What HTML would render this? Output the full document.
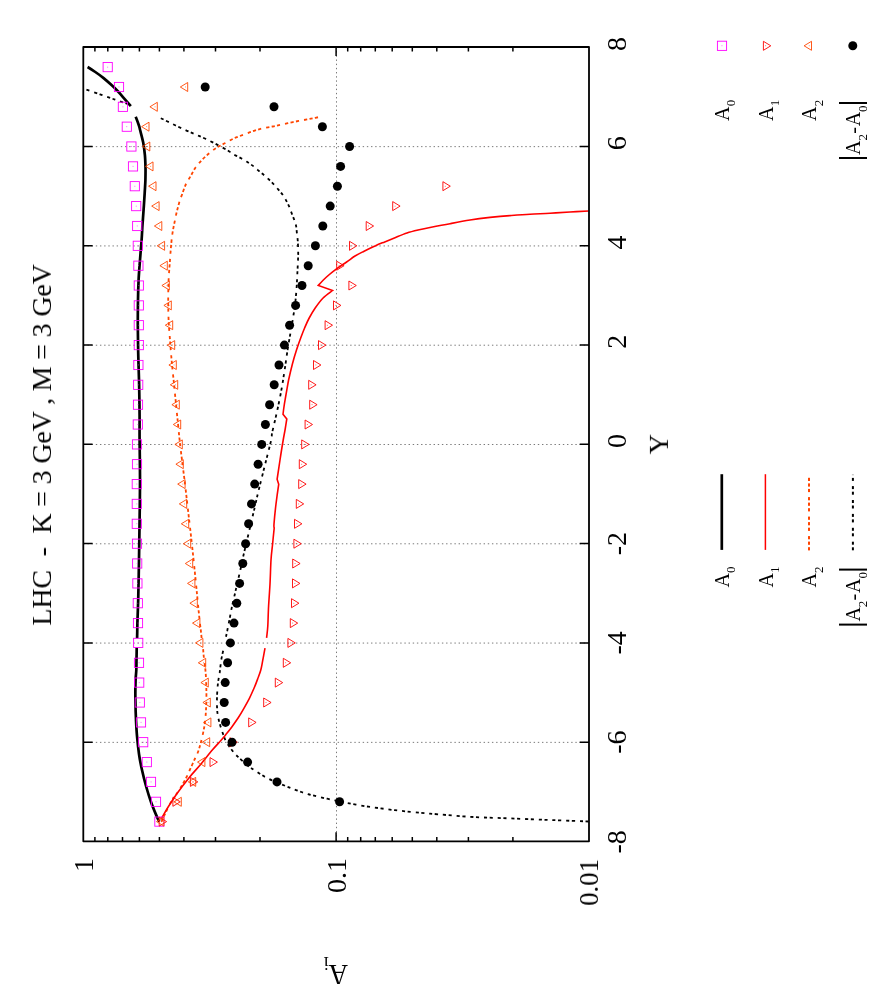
<!DOCTYPE html>
<html><head><meta charset="utf-8"><title>chart</title>
<style>html,body{margin:0;padding:0;background:#fff}svg{display:block}text{font-family:"Liberation Serif",serif;fill:#000}</style></head>
<body>
<svg width="875" height="1000" viewBox="0 0 875 1000">
<rect width="875" height="1000" fill="#fff"/>
<g stroke="#000" stroke-opacity="0.7" stroke-width="0.75" stroke-dasharray="1.4 2.77" fill="none">
<path d="M83.3 742.36 H589.0"/>
<path d="M83.3 643.07 H589.0"/>
<path d="M83.3 543.79 H589.0"/>
<path d="M83.3 444.50 H589.0"/>
<path d="M83.3 345.21 H589.0"/>
<path d="M83.3 245.93 H589.0"/>
<path d="M83.3 146.64 H589.0"/>
<path d="M336.5 47.0 V841.3"/>
</g>
<g stroke="#000" stroke-width="1.5" fill="none">
<path d="M83.3 742.2 h9.3 M589.0 742.2 h-9.3"/>
<path d="M83.3 642.9 h9.3 M589.0 642.9 h-9.3"/>
<path d="M83.3 543.6 h9.3 M589.0 543.6 h-9.3"/>
<path d="M83.3 444.3 h9.3 M589.0 444.3 h-9.3"/>
<path d="M83.3 345.1 h9.3 M589.0 345.1 h-9.3"/>
<path d="M83.3 245.8 h9.3 M589.0 245.8 h-9.3"/>
<path d="M83.3 146.5 h9.3 M589.0 146.5 h-9.3"/>
<path d="M512.9 47.0 v4.4 M512.9 841.3 v-4.4"/>
<path d="M468.4 47.0 v4.4 M468.4 841.3 v-4.4"/>
<path d="M436.8 47.0 v4.4 M436.8 841.3 v-4.4"/>
<path d="M412.3 47.0 v4.4 M412.3 841.3 v-4.4"/>
<path d="M392.2 47.0 v4.4 M392.2 841.3 v-4.4"/>
<path d="M375.3 47.0 v4.4 M375.3 841.3 v-4.4"/>
<path d="M360.7 47.0 v4.4 M360.7 841.3 v-4.4"/>
<path d="M347.7 47.0 v4.4 M347.7 841.3 v-4.4"/>
<path d="M336.1 47.0 v9.0 M336.1 841.3 v-9.0"/>
<path d="M260.0 47.0 v4.4 M260.0 841.3 v-4.4"/>
<path d="M215.5 47.0 v4.4 M215.5 841.3 v-4.4"/>
<path d="M183.9 47.0 v4.4 M183.9 841.3 v-4.4"/>
<path d="M159.4 47.0 v4.4 M159.4 841.3 v-4.4"/>
<path d="M139.4 47.0 v4.4 M139.4 841.3 v-4.4"/>
<path d="M122.5 47.0 v4.4 M122.5 841.3 v-4.4"/>
<path d="M107.8 47.0 v4.4 M107.8 841.3 v-4.4"/>
<path d="M94.9 47.0 v4.4 M94.9 841.3 v-4.4"/>
</g>
<g fill="none" stroke-linejoin="round">
<path d="M161.6 821.6 C162.2 820.2 164.1 815.9 165.5 813.0 C166.9 810.1 168.2 807.2 170.0 804.0 C171.8 800.8 174.7 796.8 176.5 794.0 C178.3 791.2 179.3 789.8 181.0 787.0 C182.7 784.2 185.1 779.8 186.6 777.0 C188.1 774.2 188.4 773.0 189.8 770.0 C191.2 767.0 193.4 762.0 194.8 759.0 C196.2 756.0 197.0 754.8 198.0 752.0 C199.0 749.2 199.9 746.3 201.0 742.0 C202.1 737.7 203.6 731.3 204.4 726.0 C205.2 720.7 205.7 715.7 206.0 710.0 C206.3 704.3 206.5 698.3 206.4 692.0 C206.3 685.7 206.1 678.0 205.6 672.0 C205.1 666.0 204.1 659.9 203.7 656.0 C203.3 652.1 203.2 649.8 203.1 648.5" stroke="#ff4500" stroke-width="1.8" stroke-dasharray="3.2 2.3 3.2 2.3 3.2 5.1"/>
<path d="M201.6 638.0 C201.5 636.8 201.2 634.0 200.9 631.0 C200.6 628.0 200.2 626.2 199.6 620.0 C198.9 613.8 197.9 603.3 197.0 594.0 C196.1 584.7 195.0 573.7 194.0 564.0 C193.0 554.3 192.0 545.0 191.0 536.0 C190.0 527.0 189.0 518.7 188.0 510.0 C187.0 501.3 186.0 492.3 185.0 484.0 C184.0 475.7 182.9 467.3 182.0 460.0 C181.1 452.7 180.3 446.7 179.6 440.0 C178.9 433.3 178.3 426.7 177.6 420.0 C176.9 413.3 176.3 406.7 175.6 400.0 C174.9 393.3 174.3 386.7 173.6 380.0 C172.9 373.3 172.2 366.7 171.6 360.0 C171.0 353.3 170.5 346.7 170.0 340.0 C169.5 333.3 168.9 326.7 168.6 320.0 C168.3 313.3 168.2 306.7 168.2 300.0 C168.2 293.3 168.3 286.7 168.6 280.0 C168.9 273.3 169.6 266.1 170.0 260.0 C170.4 253.8 170.9 247.6 171.3 243.1 C171.7 238.6 172.0 236.4 172.5 233.1 C173.0 229.8 173.7 226.3 174.4 223.0 C175.1 219.7 175.7 216.3 176.5 213.0 C177.3 209.7 178.2 206.1 179.1 202.9 C180.0 199.8 181.0 197.2 182.2 194.1 C183.3 190.9 184.6 186.9 186.0 184.0 C187.4 181.1 188.8 179.2 190.4 176.5 C192.0 173.8 193.5 170.4 195.4 167.7 C197.3 165.0 199.4 162.6 201.7 160.2 C204.0 157.8 206.7 155.4 209.2 153.3 C211.7 151.2 214.1 149.3 216.8 147.6 C219.5 145.9 222.5 144.5 225.3 143.0 C228.1 141.5 230.7 139.8 233.8 138.4 C236.9 137.0 240.6 135.8 243.9 134.6 C247.2 133.3 250.8 131.9 253.9 130.9 C257.0 129.9 259.6 129.0 262.7 128.3 C265.8 127.6 269.6 127.1 272.8 126.5 C276.0 125.9 278.2 125.3 281.6 124.6 C285.0 123.9 289.3 122.8 292.9 122.1 C296.4 121.4 299.5 120.8 302.9 120.2 C306.2 119.6 309.9 118.9 313.0 118.3 C316.1 117.7 320.0 116.8 321.4 116.5" stroke="#ff4500" stroke-width="1.8" stroke-dasharray="3.2 2.3 3.2 2.3 3.2 5.1"/>
<path d="M588.6 821.5 C582.2 821.2 563.1 820.5 550.0 820.0 C536.9 819.5 523.3 818.9 510.0 818.4 C496.7 817.9 483.3 817.6 470.0 816.8 C456.7 816.0 439.2 814.4 430.0 813.6 C420.8 812.8 419.8 812.7 415.0 812.2 C410.2 811.8 405.9 811.4 401.4 810.9 C396.8 810.4 392.3 809.9 387.7 809.3 C383.1 808.7 378.6 808.1 374.0 807.5 C369.4 806.9 364.9 806.2 360.3 805.4 C355.7 804.6 350.8 803.7 346.6 802.9 C342.4 802.1 339.3 801.3 335.0 800.4 C330.7 799.5 325.1 798.3 320.6 797.3 C316.1 796.2 312.0 795.3 308.0 794.1 C304.0 792.9 300.5 791.7 296.7 790.3 C292.9 788.9 290.2 787.9 285.4 785.9 C280.6 783.9 272.6 780.8 267.8 778.4 C263.0 776.0 259.6 773.5 256.5 771.5 C253.3 769.5 251.8 768.8 248.9 766.5 C246.0 764.2 241.4 760.0 238.9 757.7 C236.4 755.4 236.0 755.2 233.9 752.6 C231.8 750.0 228.2 745.2 226.5 742.2 C224.8 739.2 224.2 737.0 223.4 734.9 C222.6 732.8 222.2 731.5 221.5 729.4 C220.8 727.3 219.9 724.4 219.3 722.1 C218.7 719.8 218.3 718.0 217.9 715.7 C217.5 713.4 217.2 711.5 217.1 708.4 C216.9 705.3 216.9 701.5 217.0 697.4 C217.1 693.3 217.5 687.8 217.9 683.7 C218.3 679.6 219.1 676.6 219.7 672.7 C220.2 668.8 220.6 664.1 221.2 660.3 C221.8 656.5 223.0 651.7 223.3 650.0" stroke="#000" stroke-width="1.8" stroke-dasharray="3.1 2.6 3.1 4.9"/>
<path d="M226.0 636.8 C226.2 635.8 226.5 634.2 227.2 631.0 C227.8 627.8 229.1 621.6 229.9 617.4 C230.7 613.2 231.3 609.6 232.2 605.6 C233.0 601.6 234.2 597.2 235.0 593.5 C235.8 589.8 236.3 587.6 237.2 583.6 C238.1 579.6 239.4 574.2 240.5 569.3 C241.6 564.3 242.5 559.6 243.8 553.9 C245.1 548.2 246.6 541.8 248.2 535.2 C249.8 528.6 251.7 520.2 253.1 514.3 C254.5 508.4 255.4 504.4 256.4 500.0 C257.4 495.6 257.7 494.0 259.2 488.0 C260.7 482.0 263.2 472.0 265.2 464.0 C267.2 456.0 270.1 445.1 271.2 440.0 C272.3 434.9 271.4 436.5 272.0 433.4 C272.6 430.3 273.8 425.7 274.8 421.3 C275.8 416.9 276.8 412.7 278.0 407.0 C279.2 401.3 280.7 394.0 281.9 387.2 C283.1 380.4 284.2 372.5 285.2 366.3 C286.1 360.1 286.9 354.2 287.6 349.8 C288.3 345.4 288.6 343.6 289.2 340.2 C289.8 336.8 290.5 332.9 291.1 329.2 C291.7 325.5 292.4 322.2 293.0 318.2 C293.6 314.2 294.4 309.4 295.0 305.0 C295.6 300.6 295.9 296.2 296.3 291.8 C296.7 287.4 296.9 282.8 297.1 278.6 C297.3 274.4 297.5 270.7 297.7 266.5 C297.9 262.3 298.2 257.5 298.2 253.3 C298.2 249.1 298.0 244.5 297.8 241.3 C297.6 238.1 297.3 236.8 297.0 234.2 C296.7 231.6 296.5 228.2 296.1 225.9 C295.7 223.6 295.2 222.5 294.5 220.4 C293.8 218.3 292.5 215.5 291.7 213.3 C290.9 211.1 290.4 209.3 289.5 207.2 C288.6 205.1 287.3 202.6 286.2 200.6 C285.1 198.6 284.3 197.0 282.9 195.1 C281.5 193.2 279.5 190.8 278.0 189.1 C276.5 187.4 275.7 186.3 274.1 184.7 C272.5 183.0 270.2 180.8 268.6 179.2 C267.0 177.6 266.0 176.9 264.2 175.3 C262.4 173.7 259.3 171.3 257.6 169.8 C255.9 168.3 255.6 167.9 253.8 166.5 C252.0 165.1 248.7 163.0 246.6 161.6 C244.5 160.2 243.0 159.4 241.1 158.3 C239.2 157.2 237.0 156.2 235.0 155.1 C233.0 153.9 232.1 153.1 229.3 151.4 C226.5 149.7 222.0 147.2 218.0 145.1 C214.0 143.0 209.3 140.6 205.5 138.8 C201.7 137.0 198.8 135.9 195.4 134.4 C192.0 132.9 189.2 131.8 185.3 130.0 C181.4 128.2 176.5 125.9 172.0 123.7 C167.5 121.5 160.8 118.2 158.5 117.1" stroke="#000" stroke-width="1.8" stroke-dasharray="3.1 2.6 3.1 4.9"/>
<path d="M128.3 104.2 C126.1 103.4 119.7 101.2 115.0 99.6 C110.3 98.0 105.1 96.2 100.0 94.4 C94.9 92.6 86.8 89.8 84.2 88.9" stroke="#000" stroke-width="1.8" stroke-dasharray="3.1 2.6 3.1 4.9"/>
<path d="M161.0 819.2 C161.2 818.9 160.7 819.7 161.9 817.6 C163.1 815.5 165.7 810.8 168.3 806.7 C170.9 802.6 173.9 797.9 177.4 793.0 C180.9 788.1 185.3 782.3 189.3 777.4 C193.3 772.5 197.4 768.3 201.2 763.7 C205.0 759.1 209.3 753.6 212.3 750.0 C215.3 746.4 217.1 744.7 219.3 742.2 C221.5 739.7 223.5 737.5 225.6 734.9 C227.7 732.3 229.9 729.6 232.0 726.7 C234.1 723.8 236.4 720.5 238.4 717.5 C240.4 714.5 242.1 711.6 243.9 708.4 C245.7 705.2 247.7 701.6 249.4 698.3 C251.1 694.9 252.6 691.5 254.0 688.3 C255.4 685.1 256.5 682.1 257.6 679.1 C258.7 676.1 260.0 673.0 260.8 670.0 C261.6 667.0 261.9 664.8 262.6 661.2 C263.3 657.6 264.6 650.4 265.0 648.2" stroke="#ff0000" stroke-width="1.6" stroke-linejoin="miter"/>
<path d="M266.6 637.8 C266.8 635.8 267.5 631.3 267.8 626.0 C268.1 620.7 268.2 613.0 268.6 606.0 C269.0 599.0 269.6 591.7 270.0 584.0 C270.4 576.3 270.6 566.7 271.0 560.0 C271.4 553.3 272.1 549.3 272.6 544.0 C273.1 538.7 273.9 530.7 274.2 528.0  C274.2 527.3 273.7 528.0 274.0 524.0 C274.3 520.0 275.2 510.6 276.0 504.0 C276.8 497.4 278.2 487.6 278.7 484.3 L277.1 479.3  C277.6 476.1 279.0 466.6 280.0 460.0 C281.0 453.4 282.3 445.2 283.2 440.0 C284.1 434.8 284.6 432.5 285.2 429.0 C285.8 425.5 286.5 420.7 286.8 419.0 L283.0 414.2  C283.2 412.8 283.6 409.4 284.1 406.0 C284.6 402.6 285.4 398.3 286.1 394.0 C286.9 389.7 287.6 385.0 288.6 380.0 C289.7 375.0 291.1 369.0 292.4 364.0 C293.7 359.0 295.1 354.3 296.5 350.0 C297.9 345.7 299.3 341.7 300.7 338.0 C302.1 334.3 303.2 331.3 304.6 328.0 C306.0 324.7 307.4 321.3 309.2 318.0 C311.0 314.7 312.9 311.3 315.2 308.0 C317.5 304.7 320.2 300.9 323.1 298.0 C326.0 295.1 331.0 291.8 332.6 290.5 L318.3 285.4  C319.7 283.9 323.5 279.8 326.5 277.0 C329.5 274.2 333.1 271.3 336.5 268.8 C339.9 266.3 343.5 264.1 346.6 262.0 C349.7 259.9 352.1 257.8 355.0 256.0 C357.9 254.2 360.7 252.9 364.1 251.2 C367.5 249.5 372.2 247.2 375.6 245.7 C379.0 244.1 381.5 243.2 384.7 241.9 C387.9 240.6 391.3 239.2 395.0 237.7 C398.7 236.2 403.0 234.3 407.0 233.0 C411.0 231.7 415.4 230.7 419.2 229.8 C423.0 228.9 424.9 228.5 430.0 227.5 C435.1 226.5 443.3 224.9 450.0 223.7 C456.7 222.4 463.3 221.1 470.0 220.0 C476.7 218.9 483.3 218.1 490.0 217.4 C496.7 216.7 503.3 216.1 510.0 215.6 C516.7 215.1 523.3 214.6 530.0 214.2 C536.7 213.8 543.3 213.6 550.0 213.2 C556.7 212.8 563.6 212.4 570.0 212.0 C576.4 211.6 585.5 211.2 588.6 211.0" stroke="#ff0000" stroke-width="1.6" stroke-linejoin="miter"/>
<path d="M159.4 821.6 C159.0 820.8 158.4 820.3 157.0 817.0 C155.6 813.7 152.8 807.2 151.0 802.0 C149.2 796.8 147.5 791.3 146.0 786.0 C144.5 780.7 143.2 775.3 142.0 770.0 C140.8 764.7 139.8 759.7 139.0 754.0 C138.2 748.3 137.5 741.7 137.0 736.0 C136.5 730.3 136.3 726.0 136.0 720.0 C135.7 714.0 135.5 706.7 135.4 700.0 C135.3 693.3 135.4 685.0 135.6 680.0 C135.8 675.0 136.2 673.3 136.3 670.0 C136.5 666.7 136.4 663.7 136.5 660.0 C136.6 656.3 136.7 649.8 136.7 647.8" stroke="#000" stroke-width="2.7"/>
<path d="M137.1 638.2 C137.2 635.2 137.3 626.4 137.5 620.0 C137.7 613.6 137.9 610.0 138.2 600.0 C138.4 590.0 138.8 573.3 139.0 560.0 C139.2 546.7 139.4 533.3 139.6 520.0 C139.8 506.7 140.0 493.3 140.0 480.0 C140.0 466.7 139.7 450.0 139.6 440.0 C139.5 430.0 139.6 426.7 139.6 420.0 C139.6 413.3 139.5 406.7 139.4 400.0 C139.3 393.3 139.2 386.7 139.0 380.0 C138.8 373.3 138.6 366.7 138.4 360.0 C138.2 353.3 138.1 346.7 138.0 340.0 C137.9 333.3 137.8 326.7 137.8 320.0 C137.8 313.3 137.9 306.7 138.0 300.0 C138.1 293.3 138.3 286.7 138.6 280.0 C138.9 273.3 139.5 266.7 140.0 260.0 C140.5 253.3 141.2 245.3 141.6 240.0 C142.0 234.7 142.1 231.7 142.3 228.0 C142.5 224.3 142.7 221.8 143.0 218.0 C143.3 214.2 143.6 209.6 143.9 205.4 C144.2 201.2 144.4 197.1 144.7 192.9 C144.9 188.7 145.3 184.5 145.4 180.3 C145.5 176.1 145.6 171.9 145.5 167.7 C145.4 163.5 145.3 159.3 144.9 155.1 C144.5 150.9 144.0 146.8 143.2 142.6 C142.4 138.4 140.8 132.8 140.1 130.0 C139.4 127.2 139.8 128.2 139.1 126.0 C138.4 123.8 136.3 118.2 135.7 116.7" stroke="#000" stroke-width="2.7"/>
<path d="M130.8 106.2 C129.9 105.1 127.2 102.0 125.2 99.7 C123.2 97.4 121.2 94.9 119.0 92.5 C116.8 90.1 114.4 87.7 111.8 85.3 C109.2 82.9 106.3 80.3 103.6 78.1 C100.8 75.9 98.0 73.8 95.3 72.0 C92.6 70.2 88.9 67.8 87.6 67.0" stroke="#000" stroke-width="2.7"/>
</g>
<g>
<rect x="154.8" y="817.0" width="9.2" height="9.2" fill="none" stroke="#ff00ff" stroke-width="0.9"/><rect x="159.0" y="821.2" width="0.9" height="0.9" fill="#ff00ff" fill-opacity="0.7"/>
<rect x="151.4" y="797.2" width="9.2" height="9.2" fill="none" stroke="#ff00ff" stroke-width="0.9"/><rect x="155.6" y="801.3" width="0.9" height="0.9" fill="#ff00ff" fill-opacity="0.7"/>
<rect x="146.4" y="777.3" width="9.2" height="9.2" fill="none" stroke="#ff00ff" stroke-width="0.9"/><rect x="150.6" y="781.5" width="0.9" height="0.9" fill="#ff00ff" fill-opacity="0.7"/>
<rect x="142.2" y="757.5" width="9.2" height="9.2" fill="none" stroke="#ff00ff" stroke-width="0.9"/><rect x="146.4" y="761.6" width="0.9" height="0.9" fill="#ff00ff" fill-opacity="0.7"/>
<rect x="138.6" y="737.6" width="9.2" height="9.2" fill="none" stroke="#ff00ff" stroke-width="0.9"/><rect x="142.8" y="741.8" width="0.9" height="0.9" fill="#ff00ff" fill-opacity="0.7"/>
<rect x="136.4" y="717.8" width="9.2" height="9.2" fill="none" stroke="#ff00ff" stroke-width="0.9"/><rect x="140.6" y="721.9" width="0.9" height="0.9" fill="#ff00ff" fill-opacity="0.7"/>
<rect x="135.2" y="697.9" width="9.2" height="9.2" fill="none" stroke="#ff00ff" stroke-width="0.9"/><rect x="139.4" y="702.1" width="0.9" height="0.9" fill="#ff00ff" fill-opacity="0.7"/>
<rect x="134.6" y="678.0" width="9.2" height="9.2" fill="none" stroke="#ff00ff" stroke-width="0.9"/><rect x="138.8" y="682.2" width="0.9" height="0.9" fill="#ff00ff" fill-opacity="0.7"/>
<rect x="134.4" y="658.2" width="9.2" height="9.2" fill="none" stroke="#ff00ff" stroke-width="0.9"/><rect x="138.6" y="662.3" width="0.9" height="0.9" fill="#ff00ff" fill-opacity="0.7"/>
<rect x="133.6" y="638.3" width="9.2" height="9.2" fill="none" stroke="#ff00ff" stroke-width="0.9"/><rect x="137.8" y="642.5" width="0.9" height="0.9" fill="#ff00ff" fill-opacity="0.7"/>
<rect x="133.4" y="618.5" width="9.2" height="9.2" fill="none" stroke="#ff00ff" stroke-width="0.9"/><rect x="137.6" y="622.6" width="0.9" height="0.9" fill="#ff00ff" fill-opacity="0.7"/>
<rect x="133.2" y="598.6" width="9.2" height="9.2" fill="none" stroke="#ff00ff" stroke-width="0.9"/><rect x="137.4" y="602.8" width="0.9" height="0.9" fill="#ff00ff" fill-opacity="0.7"/>
<rect x="132.8" y="578.8" width="9.2" height="9.2" fill="none" stroke="#ff00ff" stroke-width="0.9"/><rect x="137.0" y="582.9" width="0.9" height="0.9" fill="#ff00ff" fill-opacity="0.7"/>
<rect x="132.6" y="558.9" width="9.2" height="9.2" fill="none" stroke="#ff00ff" stroke-width="0.9"/><rect x="136.8" y="563.1" width="0.9" height="0.9" fill="#ff00ff" fill-opacity="0.7"/>
<rect x="132.4" y="539.1" width="9.2" height="9.2" fill="none" stroke="#ff00ff" stroke-width="0.9"/><rect x="136.6" y="543.2" width="0.9" height="0.9" fill="#ff00ff" fill-opacity="0.7"/>
<rect x="132.2" y="519.2" width="9.2" height="9.2" fill="none" stroke="#ff00ff" stroke-width="0.9"/><rect x="136.4" y="523.3" width="0.9" height="0.9" fill="#ff00ff" fill-opacity="0.7"/>
<rect x="132.2" y="499.3" width="9.2" height="9.2" fill="none" stroke="#ff00ff" stroke-width="0.9"/><rect x="136.4" y="503.5" width="0.9" height="0.9" fill="#ff00ff" fill-opacity="0.7"/>
<rect x="132.2" y="479.5" width="9.2" height="9.2" fill="none" stroke="#ff00ff" stroke-width="0.9"/><rect x="136.4" y="483.6" width="0.9" height="0.9" fill="#ff00ff" fill-opacity="0.7"/>
<rect x="132.4" y="459.6" width="9.2" height="9.2" fill="none" stroke="#ff00ff" stroke-width="0.9"/><rect x="136.6" y="463.8" width="0.9" height="0.9" fill="#ff00ff" fill-opacity="0.7"/>
<rect x="132.4" y="439.8" width="9.2" height="9.2" fill="none" stroke="#ff00ff" stroke-width="0.9"/><rect x="136.6" y="443.9" width="0.9" height="0.9" fill="#ff00ff" fill-opacity="0.7"/>
<rect x="133.2" y="419.9" width="9.2" height="9.2" fill="none" stroke="#ff00ff" stroke-width="0.9"/><rect x="137.4" y="424.1" width="0.9" height="0.9" fill="#ff00ff" fill-opacity="0.7"/>
<rect x="133.4" y="400.1" width="9.2" height="9.2" fill="none" stroke="#ff00ff" stroke-width="0.9"/><rect x="137.6" y="404.2" width="0.9" height="0.9" fill="#ff00ff" fill-opacity="0.7"/>
<rect x="133.6" y="380.2" width="9.2" height="9.2" fill="none" stroke="#ff00ff" stroke-width="0.9"/><rect x="137.8" y="384.4" width="0.9" height="0.9" fill="#ff00ff" fill-opacity="0.7"/>
<rect x="133.8" y="360.4" width="9.2" height="9.2" fill="none" stroke="#ff00ff" stroke-width="0.9"/><rect x="138.0" y="364.5" width="0.9" height="0.9" fill="#ff00ff" fill-opacity="0.7"/>
<rect x="134.2" y="340.5" width="9.2" height="9.2" fill="none" stroke="#ff00ff" stroke-width="0.9"/><rect x="138.4" y="344.6" width="0.9" height="0.9" fill="#ff00ff" fill-opacity="0.7"/>
<rect x="134.2" y="320.6" width="9.2" height="9.2" fill="none" stroke="#ff00ff" stroke-width="0.9"/><rect x="138.4" y="324.8" width="0.9" height="0.9" fill="#ff00ff" fill-opacity="0.7"/>
<rect x="134.2" y="300.8" width="9.2" height="9.2" fill="none" stroke="#ff00ff" stroke-width="0.9"/><rect x="138.4" y="304.9" width="0.9" height="0.9" fill="#ff00ff" fill-opacity="0.7"/>
<rect x="134.2" y="280.9" width="9.2" height="9.2" fill="none" stroke="#ff00ff" stroke-width="0.9"/><rect x="138.4" y="285.1" width="0.9" height="0.9" fill="#ff00ff" fill-opacity="0.7"/>
<rect x="133.8" y="261.1" width="9.2" height="9.2" fill="none" stroke="#ff00ff" stroke-width="0.9"/><rect x="138.0" y="265.2" width="0.9" height="0.9" fill="#ff00ff" fill-opacity="0.7"/>
<rect x="133.2" y="241.2" width="9.2" height="9.2" fill="none" stroke="#ff00ff" stroke-width="0.9"/><rect x="137.4" y="245.4" width="0.9" height="0.9" fill="#ff00ff" fill-opacity="0.7"/>
<rect x="132.6" y="221.4" width="9.2" height="9.2" fill="none" stroke="#ff00ff" stroke-width="0.9"/><rect x="136.8" y="225.5" width="0.9" height="0.9" fill="#ff00ff" fill-opacity="0.7"/>
<rect x="131.6" y="201.5" width="9.2" height="9.2" fill="none" stroke="#ff00ff" stroke-width="0.9"/><rect x="135.8" y="205.7" width="0.9" height="0.9" fill="#ff00ff" fill-opacity="0.7"/>
<rect x="130.2" y="181.6" width="9.2" height="9.2" fill="none" stroke="#ff00ff" stroke-width="0.9"/><rect x="134.4" y="185.8" width="0.9" height="0.9" fill="#ff00ff" fill-opacity="0.7"/>
<rect x="128.4" y="161.8" width="9.2" height="9.2" fill="none" stroke="#ff00ff" stroke-width="0.9"/><rect x="132.6" y="165.9" width="0.9" height="0.9" fill="#ff00ff" fill-opacity="0.7"/>
<rect x="126.8" y="141.9" width="9.2" height="9.2" fill="none" stroke="#ff00ff" stroke-width="0.9"/><rect x="131.0" y="146.1" width="0.9" height="0.9" fill="#ff00ff" fill-opacity="0.7"/>
<rect x="122.2" y="122.1" width="9.2" height="9.2" fill="none" stroke="#ff00ff" stroke-width="0.9"/><rect x="126.3" y="126.2" width="0.9" height="0.9" fill="#ff00ff" fill-opacity="0.7"/>
<rect x="118.3" y="102.2" width="9.2" height="9.2" fill="none" stroke="#ff00ff" stroke-width="0.9"/><rect x="122.5" y="106.4" width="0.9" height="0.9" fill="#ff00ff" fill-opacity="0.7"/>
<rect x="114.4" y="82.4" width="9.2" height="9.2" fill="none" stroke="#ff00ff" stroke-width="0.9"/><rect x="118.5" y="86.5" width="0.9" height="0.9" fill="#ff00ff" fill-opacity="0.7"/>
<rect x="103.1" y="62.5" width="9.2" height="9.2" fill="none" stroke="#ff00ff" stroke-width="0.9"/><rect x="107.2" y="66.7" width="0.9" height="0.9" fill="#ff00ff" fill-opacity="0.7"/>
<path d="M159.2 817.1 L166.6 821.6 L159.2 826.1 Z" fill="none" stroke="#ff0000" stroke-width="0.9"/><rect x="161.1" y="821.2" width="0.9" height="0.9" fill="#ff0000" fill-opacity="0.7"/>
<path d="M172.9 797.3 L180.3 801.8 L172.9 806.3 Z" fill="none" stroke="#ff0000" stroke-width="0.9"/><rect x="174.8" y="801.3" width="0.9" height="0.9" fill="#ff0000" fill-opacity="0.7"/>
<path d="M190.4 777.4 L197.8 781.9 L190.4 786.4 Z" fill="none" stroke="#ff0000" stroke-width="0.9"/><rect x="192.2" y="781.5" width="0.9" height="0.9" fill="#ff0000" fill-opacity="0.7"/>
<path d="M210.0 757.6 L217.4 762.1 L210.0 766.6 Z" fill="none" stroke="#ff0000" stroke-width="0.9"/><rect x="211.9" y="761.6" width="0.9" height="0.9" fill="#ff0000" fill-opacity="0.7"/>
<path d="M229.9 737.7 L237.3 742.2 L229.9 746.7 Z" fill="none" stroke="#ff0000" stroke-width="0.9"/><rect x="231.8" y="741.8" width="0.9" height="0.9" fill="#ff0000" fill-opacity="0.7"/>
<path d="M248.7 717.9 L256.1 722.4 L248.7 726.9 Z" fill="none" stroke="#ff0000" stroke-width="0.9"/><rect x="250.6" y="721.9" width="0.9" height="0.9" fill="#ff0000" fill-opacity="0.7"/>
<path d="M263.7 698.0 L271.1 702.5 L263.7 707.0 Z" fill="none" stroke="#ff0000" stroke-width="0.9"/><rect x="265.6" y="702.1" width="0.9" height="0.9" fill="#ff0000" fill-opacity="0.7"/>
<path d="M275.3 678.1 L282.7 682.6 L275.3 687.1 Z" fill="none" stroke="#ff0000" stroke-width="0.9"/><rect x="277.2" y="682.2" width="0.9" height="0.9" fill="#ff0000" fill-opacity="0.7"/>
<path d="M283.3 658.3 L290.7 662.8 L283.3 667.3 Z" fill="none" stroke="#ff0000" stroke-width="0.9"/><rect x="285.2" y="662.3" width="0.9" height="0.9" fill="#ff0000" fill-opacity="0.7"/>
<path d="M287.9 638.4 L295.3 642.9 L287.9 647.4 Z" fill="none" stroke="#ff0000" stroke-width="0.9"/><rect x="289.8" y="642.5" width="0.9" height="0.9" fill="#ff0000" fill-opacity="0.7"/>
<path d="M290.3 618.6 L297.7 623.1 L290.3 627.6 Z" fill="none" stroke="#ff0000" stroke-width="0.9"/><rect x="292.2" y="622.6" width="0.9" height="0.9" fill="#ff0000" fill-opacity="0.7"/>
<path d="M291.5 598.7 L298.9 603.2 L291.5 607.7 Z" fill="none" stroke="#ff0000" stroke-width="0.9"/><rect x="293.4" y="602.8" width="0.9" height="0.9" fill="#ff0000" fill-opacity="0.7"/>
<path d="M292.5 578.9 L299.9 583.4 L292.5 587.9 Z" fill="none" stroke="#ff0000" stroke-width="0.9"/><rect x="294.4" y="582.9" width="0.9" height="0.9" fill="#ff0000" fill-opacity="0.7"/>
<path d="M292.7 559.0 L300.1 563.5 L292.7 568.0 Z" fill="none" stroke="#ff0000" stroke-width="0.9"/><rect x="294.6" y="563.1" width="0.9" height="0.9" fill="#ff0000" fill-opacity="0.7"/>
<path d="M293.9 539.2 L301.3 543.7 L293.9 548.2 Z" fill="none" stroke="#ff0000" stroke-width="0.9"/><rect x="295.8" y="543.2" width="0.9" height="0.9" fill="#ff0000" fill-opacity="0.7"/>
<path d="M294.5 519.3 L301.9 523.8 L294.5 528.3 Z" fill="none" stroke="#ff0000" stroke-width="0.9"/><rect x="296.4" y="523.3" width="0.9" height="0.9" fill="#ff0000" fill-opacity="0.7"/>
<path d="M296.3 499.4 L303.7 503.9 L296.3 508.4 Z" fill="none" stroke="#ff0000" stroke-width="0.9"/><rect x="298.2" y="503.5" width="0.9" height="0.9" fill="#ff0000" fill-opacity="0.7"/>
<path d="M298.7 479.6 L306.1 484.1 L298.7 488.6 Z" fill="none" stroke="#ff0000" stroke-width="0.9"/><rect x="300.6" y="483.6" width="0.9" height="0.9" fill="#ff0000" fill-opacity="0.7"/>
<path d="M299.3 459.7 L306.7 464.2 L299.3 468.7 Z" fill="none" stroke="#ff0000" stroke-width="0.9"/><rect x="301.2" y="463.8" width="0.9" height="0.9" fill="#ff0000" fill-opacity="0.7"/>
<path d="M301.7 439.9 L309.1 444.4 L301.7 448.9 Z" fill="none" stroke="#ff0000" stroke-width="0.9"/><rect x="303.6" y="443.9" width="0.9" height="0.9" fill="#ff0000" fill-opacity="0.7"/>
<path d="M305.1 420.0 L312.5 424.5 L305.1 429.0 Z" fill="none" stroke="#ff0000" stroke-width="0.9"/><rect x="306.9" y="424.1" width="0.9" height="0.9" fill="#ff0000" fill-opacity="0.7"/>
<path d="M309.7 400.2 L317.1 404.7 L309.7 409.2 Z" fill="none" stroke="#ff0000" stroke-width="0.9"/><rect x="311.6" y="404.2" width="0.9" height="0.9" fill="#ff0000" fill-opacity="0.7"/>
<path d="M308.7 380.3 L316.1 384.8 L308.7 389.3 Z" fill="none" stroke="#ff0000" stroke-width="0.9"/><rect x="310.6" y="384.4" width="0.9" height="0.9" fill="#ff0000" fill-opacity="0.7"/>
<path d="M313.5 360.5 L320.9 365.0 L313.5 369.5 Z" fill="none" stroke="#ff0000" stroke-width="0.9"/><rect x="315.4" y="364.5" width="0.9" height="0.9" fill="#ff0000" fill-opacity="0.7"/>
<path d="M318.5 340.6 L325.9 345.1 L318.5 349.6 Z" fill="none" stroke="#ff0000" stroke-width="0.9"/><rect x="320.4" y="344.6" width="0.9" height="0.9" fill="#ff0000" fill-opacity="0.7"/>
<path d="M325.1 320.7 L332.5 325.2 L325.1 329.7 Z" fill="none" stroke="#ff0000" stroke-width="0.9"/><rect x="326.9" y="324.8" width="0.9" height="0.9" fill="#ff0000" fill-opacity="0.7"/>
<path d="M333.5 300.9 L340.9 305.4 L333.5 309.9 Z" fill="none" stroke="#ff0000" stroke-width="0.9"/><rect x="335.4" y="304.9" width="0.9" height="0.9" fill="#ff0000" fill-opacity="0.7"/>
<path d="M348.9 281.0 L356.3 285.5 L348.9 290.0 Z" fill="none" stroke="#ff0000" stroke-width="0.9"/><rect x="350.8" y="285.1" width="0.9" height="0.9" fill="#ff0000" fill-opacity="0.7"/>
<path d="M336.7 261.2 L344.1 265.7 L336.7 270.2 Z" fill="none" stroke="#ff0000" stroke-width="0.9"/><rect x="338.6" y="265.2" width="0.9" height="0.9" fill="#ff0000" fill-opacity="0.7"/>
<path d="M349.5 241.3 L356.9 245.8 L349.5 250.3 Z" fill="none" stroke="#ff0000" stroke-width="0.9"/><rect x="351.4" y="245.4" width="0.9" height="0.9" fill="#ff0000" fill-opacity="0.7"/>
<path d="M366.2 221.5 L373.6 226.0 L366.2 230.5 Z" fill="none" stroke="#ff0000" stroke-width="0.9"/><rect x="368.1" y="225.5" width="0.9" height="0.9" fill="#ff0000" fill-opacity="0.7"/>
<path d="M392.7 201.6 L400.1 206.1 L392.7 210.6 Z" fill="none" stroke="#ff0000" stroke-width="0.9"/><rect x="394.6" y="205.7" width="0.9" height="0.9" fill="#ff0000" fill-opacity="0.7"/>
<path d="M442.9 181.7 L450.3 186.2 L442.9 190.7 Z" fill="none" stroke="#ff0000" stroke-width="0.9"/><rect x="444.8" y="185.8" width="0.9" height="0.9" fill="#ff0000" fill-opacity="0.7"/>
<path d="M163.9 817.1 L156.5 821.6 L163.9 826.1 Z" fill="none" stroke="#ff4500" stroke-width="0.9"/><rect x="161.2" y="821.2" width="0.9" height="0.9" fill="#ff4500" fill-opacity="0.7"/>
<path d="M181.3 797.3 L173.9 801.8 L181.3 806.3 Z" fill="none" stroke="#ff4500" stroke-width="0.9"/><rect x="178.6" y="801.3" width="0.9" height="0.9" fill="#ff4500" fill-opacity="0.7"/>
<path d="M195.7 777.4 L188.3 781.9 L195.7 786.4 Z" fill="none" stroke="#ff4500" stroke-width="0.9"/><rect x="193.0" y="781.5" width="0.9" height="0.9" fill="#ff4500" fill-opacity="0.7"/>
<path d="M204.9 757.6 L197.5 762.1 L204.9 766.6 Z" fill="none" stroke="#ff4500" stroke-width="0.9"/><rect x="202.2" y="761.6" width="0.9" height="0.9" fill="#ff4500" fill-opacity="0.7"/>
<path d="M209.7 737.7 L202.3 742.2 L209.7 746.7 Z" fill="none" stroke="#ff4500" stroke-width="0.9"/><rect x="207.0" y="741.8" width="0.9" height="0.9" fill="#ff4500" fill-opacity="0.7"/>
<path d="M210.9 717.9 L203.5 722.4 L210.9 726.9 Z" fill="none" stroke="#ff4500" stroke-width="0.9"/><rect x="208.2" y="721.9" width="0.9" height="0.9" fill="#ff4500" fill-opacity="0.7"/>
<path d="M210.3 698.0 L202.9 702.5 L210.3 707.0 Z" fill="none" stroke="#ff4500" stroke-width="0.9"/><rect x="207.6" y="702.1" width="0.9" height="0.9" fill="#ff4500" fill-opacity="0.7"/>
<path d="M208.3 678.1 L200.9 682.6 L208.3 687.1 Z" fill="none" stroke="#ff4500" stroke-width="0.9"/><rect x="205.6" y="682.2" width="0.9" height="0.9" fill="#ff4500" fill-opacity="0.7"/>
<path d="M205.7 658.3 L198.3 662.8 L205.7 667.3 Z" fill="none" stroke="#ff4500" stroke-width="0.9"/><rect x="203.0" y="662.3" width="0.9" height="0.9" fill="#ff4500" fill-opacity="0.7"/>
<path d="M202.9 638.4 L195.5 642.9 L202.9 647.4 Z" fill="none" stroke="#ff4500" stroke-width="0.9"/><rect x="200.2" y="642.5" width="0.9" height="0.9" fill="#ff4500" fill-opacity="0.7"/>
<path d="M199.9 618.6 L192.5 623.1 L199.9 627.6 Z" fill="none" stroke="#ff4500" stroke-width="0.9"/><rect x="197.2" y="622.6" width="0.9" height="0.9" fill="#ff4500" fill-opacity="0.7"/>
<path d="M197.3 598.7 L189.9 603.2 L197.3 607.7 Z" fill="none" stroke="#ff4500" stroke-width="0.9"/><rect x="194.6" y="602.8" width="0.9" height="0.9" fill="#ff4500" fill-opacity="0.7"/>
<path d="M194.9 578.9 L187.5 583.4 L194.9 587.9 Z" fill="none" stroke="#ff4500" stroke-width="0.9"/><rect x="192.2" y="582.9" width="0.9" height="0.9" fill="#ff4500" fill-opacity="0.7"/>
<path d="M192.7 559.0 L185.3 563.5 L192.7 568.0 Z" fill="none" stroke="#ff4500" stroke-width="0.9"/><rect x="190.0" y="563.1" width="0.9" height="0.9" fill="#ff4500" fill-opacity="0.7"/>
<path d="M190.7 539.2 L183.3 543.7 L190.7 548.2 Z" fill="none" stroke="#ff4500" stroke-width="0.9"/><rect x="188.0" y="543.2" width="0.9" height="0.9" fill="#ff4500" fill-opacity="0.7"/>
<path d="M188.7 519.3 L181.3 523.8 L188.7 528.3 Z" fill="none" stroke="#ff4500" stroke-width="0.9"/><rect x="186.0" y="523.3" width="0.9" height="0.9" fill="#ff4500" fill-opacity="0.7"/>
<path d="M186.7 499.4 L179.3 503.9 L186.7 508.4 Z" fill="none" stroke="#ff4500" stroke-width="0.9"/><rect x="184.0" y="503.5" width="0.9" height="0.9" fill="#ff4500" fill-opacity="0.7"/>
<path d="M185.1 479.6 L177.7 484.1 L185.1 488.6 Z" fill="none" stroke="#ff4500" stroke-width="0.9"/><rect x="182.4" y="483.6" width="0.9" height="0.9" fill="#ff4500" fill-opacity="0.7"/>
<path d="M183.3 459.7 L175.9 464.2 L183.3 468.7 Z" fill="none" stroke="#ff4500" stroke-width="0.9"/><rect x="180.6" y="463.8" width="0.9" height="0.9" fill="#ff4500" fill-opacity="0.7"/>
<path d="M182.3 439.9 L174.9 444.4 L182.3 448.9 Z" fill="none" stroke="#ff4500" stroke-width="0.9"/><rect x="179.6" y="443.9" width="0.9" height="0.9" fill="#ff4500" fill-opacity="0.7"/>
<path d="M180.7 420.0 L173.3 424.5 L180.7 429.0 Z" fill="none" stroke="#ff4500" stroke-width="0.9"/><rect x="178.0" y="424.1" width="0.9" height="0.9" fill="#ff4500" fill-opacity="0.7"/>
<path d="M179.3 400.2 L171.9 404.7 L179.3 409.2 Z" fill="none" stroke="#ff4500" stroke-width="0.9"/><rect x="176.6" y="404.2" width="0.9" height="0.9" fill="#ff4500" fill-opacity="0.7"/>
<path d="M177.7 380.3 L170.3 384.8 L177.7 389.3 Z" fill="none" stroke="#ff4500" stroke-width="0.9"/><rect x="175.0" y="384.4" width="0.9" height="0.9" fill="#ff4500" fill-opacity="0.7"/>
<path d="M176.3 360.5 L168.9 365.0 L176.3 369.5 Z" fill="none" stroke="#ff4500" stroke-width="0.9"/><rect x="173.6" y="364.5" width="0.9" height="0.9" fill="#ff4500" fill-opacity="0.7"/>
<path d="M174.7 340.6 L167.3 345.1 L174.7 349.6 Z" fill="none" stroke="#ff4500" stroke-width="0.9"/><rect x="172.0" y="344.6" width="0.9" height="0.9" fill="#ff4500" fill-opacity="0.7"/>
<path d="M172.7 320.7 L165.3 325.2 L172.7 329.7 Z" fill="none" stroke="#ff4500" stroke-width="0.9"/><rect x="170.0" y="324.8" width="0.9" height="0.9" fill="#ff4500" fill-opacity="0.7"/>
<path d="M171.3 300.9 L163.9 305.4 L171.3 309.9 Z" fill="none" stroke="#ff4500" stroke-width="0.9"/><rect x="168.6" y="304.9" width="0.9" height="0.9" fill="#ff4500" fill-opacity="0.7"/>
<path d="M169.3 281.0 L161.9 285.5 L169.3 290.0 Z" fill="none" stroke="#ff4500" stroke-width="0.9"/><rect x="166.6" y="285.1" width="0.9" height="0.9" fill="#ff4500" fill-opacity="0.7"/>
<path d="M167.3 261.2 L159.9 265.7 L167.3 270.2 Z" fill="none" stroke="#ff4500" stroke-width="0.9"/><rect x="164.6" y="265.2" width="0.9" height="0.9" fill="#ff4500" fill-opacity="0.7"/>
<path d="M164.6 241.3 L157.2 245.8 L164.6 250.3 Z" fill="none" stroke="#ff4500" stroke-width="0.9"/><rect x="161.9" y="245.4" width="0.9" height="0.9" fill="#ff4500" fill-opacity="0.7"/>
<path d="M161.8 221.5 L154.4 226.0 L161.8 230.5 Z" fill="none" stroke="#ff4500" stroke-width="0.9"/><rect x="159.1" y="225.5" width="0.9" height="0.9" fill="#ff4500" fill-opacity="0.7"/>
<path d="M159.1 201.6 L151.7 206.1 L159.1 210.6 Z" fill="none" stroke="#ff4500" stroke-width="0.9"/><rect x="156.4" y="205.7" width="0.9" height="0.9" fill="#ff4500" fill-opacity="0.7"/>
<path d="M156.0 181.7 L148.6 186.2 L156.0 190.7 Z" fill="none" stroke="#ff4500" stroke-width="0.9"/><rect x="153.2" y="185.8" width="0.9" height="0.9" fill="#ff4500" fill-opacity="0.7"/>
<path d="M153.0 161.9 L145.6 166.4 L153.0 170.9 Z" fill="none" stroke="#ff4500" stroke-width="0.9"/><rect x="150.2" y="165.9" width="0.9" height="0.9" fill="#ff4500" fill-opacity="0.7"/>
<path d="M149.8 142.0 L142.4 146.5 L149.8 151.0 Z" fill="none" stroke="#ff4500" stroke-width="0.9"/><rect x="147.1" y="146.1" width="0.9" height="0.9" fill="#ff4500" fill-opacity="0.7"/>
<path d="M149.0 122.2 L141.6 126.7 L149.0 131.2 Z" fill="none" stroke="#ff4500" stroke-width="0.9"/><rect x="146.2" y="126.2" width="0.9" height="0.9" fill="#ff4500" fill-opacity="0.7"/>
<path d="M157.3 102.3 L149.9 106.8 L157.3 111.3 Z" fill="none" stroke="#ff4500" stroke-width="0.9"/><rect x="154.6" y="106.4" width="0.9" height="0.9" fill="#ff4500" fill-opacity="0.7"/>
<path d="M187.7 82.5 L180.3 87.0 L187.7 91.5 Z" fill="none" stroke="#ff4500" stroke-width="0.9"/><rect x="185.0" y="86.5" width="0.9" height="0.9" fill="#ff4500" fill-opacity="0.7"/>
<circle cx="339.6" cy="801.8" r="4.5" fill="#000"/>
<circle cx="277.0" cy="781.9" r="4.5" fill="#000"/>
<circle cx="247.6" cy="762.1" r="4.5" fill="#000"/>
<circle cx="232.0" cy="742.2" r="4.5" fill="#000"/>
<circle cx="225.6" cy="722.4" r="4.5" fill="#000"/>
<circle cx="224.2" cy="702.5" r="4.5" fill="#000"/>
<circle cx="225.2" cy="682.6" r="4.5" fill="#000"/>
<circle cx="227.6" cy="662.8" r="4.5" fill="#000"/>
<circle cx="230.4" cy="642.9" r="4.5" fill="#000"/>
<circle cx="234.0" cy="623.1" r="4.5" fill="#000"/>
<circle cx="236.8" cy="603.2" r="4.5" fill="#000"/>
<circle cx="239.6" cy="583.4" r="4.5" fill="#000"/>
<circle cx="242.8" cy="563.5" r="4.5" fill="#000"/>
<circle cx="245.6" cy="543.7" r="4.5" fill="#000"/>
<circle cx="248.6" cy="523.8" r="4.5" fill="#000"/>
<circle cx="251.5" cy="503.9" r="4.5" fill="#000"/>
<circle cx="254.7" cy="484.1" r="4.5" fill="#000"/>
<circle cx="258.1" cy="464.2" r="4.5" fill="#000"/>
<circle cx="261.7" cy="444.4" r="4.5" fill="#000"/>
<circle cx="265.4" cy="424.5" r="4.5" fill="#000"/>
<circle cx="269.6" cy="404.7" r="4.5" fill="#000"/>
<circle cx="274.2" cy="384.8" r="4.5" fill="#000"/>
<circle cx="279.0" cy="365.0" r="4.5" fill="#000"/>
<circle cx="284.4" cy="345.1" r="4.5" fill="#000"/>
<circle cx="289.6" cy="325.2" r="4.5" fill="#000"/>
<circle cx="295.6" cy="305.4" r="4.5" fill="#000"/>
<circle cx="302.0" cy="285.5" r="4.5" fill="#000"/>
<circle cx="308.2" cy="265.7" r="4.5" fill="#000"/>
<circle cx="315.4" cy="245.8" r="4.5" fill="#000"/>
<circle cx="322.8" cy="226.0" r="4.5" fill="#000"/>
<circle cx="330.2" cy="206.1" r="4.5" fill="#000"/>
<circle cx="337.4" cy="186.2" r="4.5" fill="#000"/>
<circle cx="340.6" cy="166.4" r="4.5" fill="#000"/>
<circle cx="349.6" cy="146.5" r="4.5" fill="#000"/>
<circle cx="322.4" cy="126.7" r="4.5" fill="#000"/>
<circle cx="274.0" cy="106.8" r="4.5" fill="#000"/>
<circle cx="205.2" cy="87.0" r="4.5" fill="#000"/>
</g>
<rect x="83.3" y="47.0" width="505.7" height="794.3" fill="none" stroke="#000" stroke-width="1.8" stroke-linejoin="round"/>
<g opacity="0.999">
<text transform="translate(51.0 625.6) rotate(-90)" font-size="28" text-anchor="start" textLength="361.5" lengthAdjust="spacing">LHC&#160;&#160;-&#160;&#160;K = 3 GeV , M = 3 GeV</text>
<text transform="translate(626.4 742.2) rotate(-90)" font-size="28" text-anchor="middle" >-6</text>
<text transform="translate(626.4 642.9) rotate(-90)" font-size="28" text-anchor="middle" >-4</text>
<text transform="translate(626.4 543.6) rotate(-90)" font-size="28" text-anchor="middle" >-2</text>
<text transform="translate(626.4 841.9) rotate(-90)" font-size="28" text-anchor="middle" >-8</text>
<text transform="translate(626.4 441.0) rotate(-90)" font-size="28" text-anchor="middle" >0</text>
<text transform="translate(626.4 341.8) rotate(-90)" font-size="28" text-anchor="middle" >2</text>
<text transform="translate(626.4 242.5) rotate(-90)" font-size="28" text-anchor="middle" >4</text>
<text transform="translate(626.4 143.2) rotate(-90)" font-size="28" text-anchor="middle" >6</text>
<text transform="translate(626.4 43.9) rotate(-90)" font-size="28" text-anchor="middle" >8</text>
<text transform="translate(667.9 444.3) rotate(-90)" font-size="28" text-anchor="middle" >Y</text>
<text transform="translate(92.9 858.0) rotate(-90)" font-size="28" text-anchor="end" >1</text>
<text transform="translate(345.8 858.0) rotate(-90)" font-size="28" text-anchor="end" >0.1</text>
<text transform="translate(598.0 905.8) rotate(-90)" font-size="28" text-anchor="start" textLength="46.8" lengthAdjust="spacingAndGlyphs">0.01</text>
<text transform="translate(348.0 965.1) rotate(180) scale(0.965 1.035)" font-size="28">A</text>
<text transform="translate(328.7 957.2) rotate(180)" font-size="18.5">i</text>
<text transform="translate(729.0 587.5) rotate(-90)" font-size="20" text-anchor="start" >A</text>
<text transform="translate(735.2 572.9) rotate(-90)" font-size="13" text-anchor="start" >0</text>
<text transform="translate(772.7 587.5) rotate(-90)" font-size="20" text-anchor="start" >A</text>
<text transform="translate(778.9 572.9) rotate(-90)" font-size="13" text-anchor="start" >1</text>
<text transform="translate(816.4 587.5) rotate(-90)" font-size="20" text-anchor="start" >A</text>
<text transform="translate(822.6 572.9) rotate(-90)" font-size="13" text-anchor="start" >2</text>
<text transform="translate(859.8 621.5) rotate(-90)" font-size="20" text-anchor="start" >A</text>
<text transform="translate(866.8 607.2) rotate(-90)" font-size="13" text-anchor="start" >2</text>
<text transform="translate(859.8 600.4) rotate(-90)" font-size="20" text-anchor="start" >-</text>
<text transform="translate(859.8 592.9) rotate(-90)" font-size="20" text-anchor="start" >A</text>
<text transform="translate(866.8 578.5) rotate(-90)" font-size="13" text-anchor="start" >0</text>
<rect x="839" y="623.6" width="28" height="2" fill="#000"/>
<rect x="839" y="568.6" width="28" height="2" fill="#000"/>
<text transform="translate(729.0 120.9) rotate(-90)" font-size="20" text-anchor="start" >A</text>
<text transform="translate(735.2 106.3) rotate(-90)" font-size="13" text-anchor="start" >0</text>
<text transform="translate(772.7 120.9) rotate(-90)" font-size="20" text-anchor="start" >A</text>
<text transform="translate(778.9 106.3) rotate(-90)" font-size="13" text-anchor="start" >1</text>
<text transform="translate(816.4 120.9) rotate(-90)" font-size="20" text-anchor="start" >A</text>
<text transform="translate(822.6 106.3) rotate(-90)" font-size="13" text-anchor="start" >2</text>
<text transform="translate(859.8 154.9) rotate(-90)" font-size="20" text-anchor="start" >A</text>
<text transform="translate(866.8 140.6) rotate(-90)" font-size="13" text-anchor="start" >2</text>
<text transform="translate(859.8 133.8) rotate(-90)" font-size="20" text-anchor="start" >-</text>
<text transform="translate(859.8 126.3) rotate(-90)" font-size="20" text-anchor="start" >A</text>
<text transform="translate(866.8 111.9) rotate(-90)" font-size="13" text-anchor="start" >0</text>
<rect x="839" y="157.0" width="28" height="2" fill="#000"/>
<rect x="839" y="102.0" width="28" height="2" fill="#000"/>
</g>
<path d="M721.8 474.2 V549.9" stroke="#000" stroke-width="2.7"/>
<path d="M765.4 474.2 V549.9" stroke="#ff0000" stroke-width="1.5"/>
<rect x="808" y="477.8" width="2" height="3.2" fill="#ff4500"/>
<rect x="808" y="483.4" width="2" height="3.2" fill="#ff4500"/>
<rect x="808" y="488.9" width="2" height="3.2" fill="#ff4500"/>
<rect x="808" y="497.1" width="2" height="3.2" fill="#ff4500"/>
<rect x="808" y="502.6" width="2" height="3.2" fill="#ff4500"/>
<rect x="808" y="508.2" width="2" height="3.2" fill="#ff4500"/>
<rect x="808" y="516.6" width="2" height="3.2" fill="#ff4500"/>
<rect x="808" y="522.1" width="2" height="3.2" fill="#ff4500"/>
<rect x="808" y="527.7" width="2" height="3.2" fill="#ff4500"/>
<rect x="808" y="536.1" width="2" height="3.2" fill="#ff4500"/>
<rect x="808" y="541.6" width="2" height="3.2" fill="#ff4500"/>
<rect x="808" y="547.2" width="2" height="3.2" fill="#ff4500"/>
<rect x="851.9" y="477.9" width="2" height="3" fill="#000"/>
<rect x="851.9" y="486.1" width="2" height="3" fill="#000"/>
<rect x="851.9" y="491.7" width="2" height="3" fill="#000"/>
<rect x="851.9" y="500.0" width="2" height="3" fill="#000"/>
<rect x="851.9" y="505.5" width="2" height="3" fill="#000"/>
<rect x="851.9" y="513.9" width="2" height="3" fill="#000"/>
<rect x="851.9" y="519.4" width="2" height="3" fill="#000"/>
<rect x="851.9" y="527.8" width="2" height="3" fill="#000"/>
<rect x="851.9" y="533.3" width="2" height="3" fill="#000"/>
<rect x="851.9" y="541.7" width="2" height="3" fill="#000"/>
<rect x="851.9" y="547.3" width="2" height="3" fill="#000"/>
<rect x="851.9" y="474.3" width="2" height="1" fill="#000" fill-opacity="0.3"/>
<rect x="717.4" y="41.2" width="9.2" height="9.2" fill="none" stroke="#ff00ff" stroke-width="0.9"/><rect x="721.5" y="45.3" width="0.9" height="0.9" fill="#ff00ff" fill-opacity="0.7"/>
<path d="M763.4 41.3 L770.8 45.8 L763.4 50.3 Z" fill="none" stroke="#ff0000" stroke-width="0.9"/><rect x="765.2" y="45.3" width="0.9" height="0.9" fill="#ff0000" fill-opacity="0.7"/>
<path d="M811.5 41.3 L804.1 45.8 L811.5 50.3 Z" fill="none" stroke="#ff4500" stroke-width="0.9"/><rect x="808.8" y="45.3" width="0.9" height="0.9" fill="#ff4500" fill-opacity="0.7"/>
<circle cx="852.8" cy="45.8" r="4.5" fill="#000"/>
</svg>
</body></html>
